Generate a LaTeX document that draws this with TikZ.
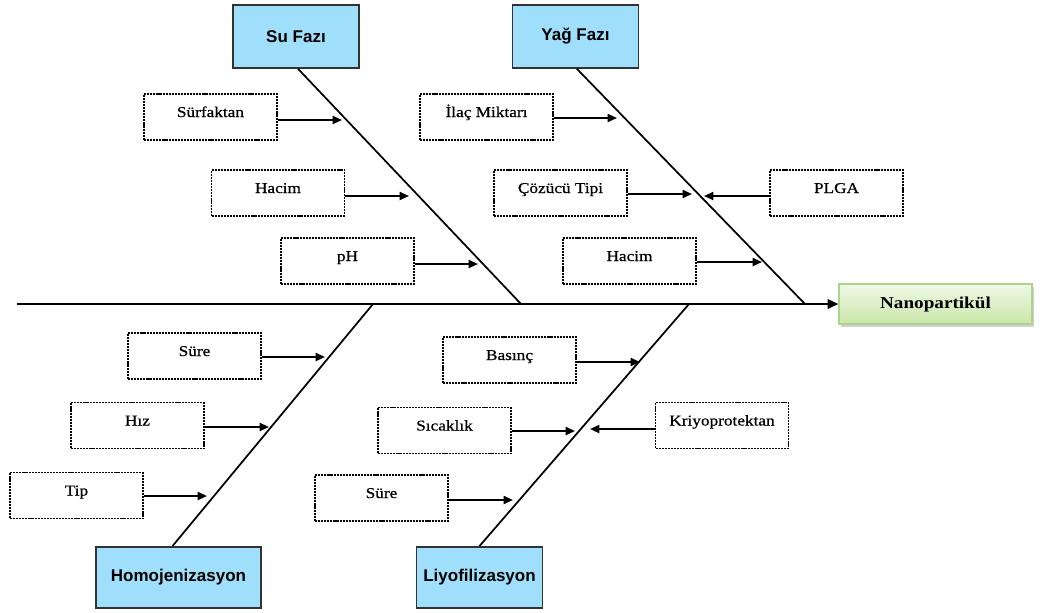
\documentclass[tikz,border=0pt]{standalone}
\usepackage{fontspec}
\setmainfont{Liberation Serif}[FakeStretch=1.15]
\newfontfamily\causefont{Liberation Serif}[FakeStretch=1.15,FakeBold=0.6]
\setsansfont{Liberation Sans}
\usetikzlibrary{arrows.meta,shadows}
\definecolor{bluebox}{HTML}{9FDFFB}
\definecolor{nanotop}{HTML}{F0F8E6}
\definecolor{nanobot}{HTML}{C9E6A8}
\definecolor{nanoedge}{HTML}{A9D48A}
\begin{document}
\begin{tikzpicture}[x=0.75pt,y=-0.75pt,
 cat/.style={draw=black!80, line width=1.4pt, fill=bluebox, minimum width=94.5pt, minimum height=47pt, inner sep=0pt, font=\sffamily\bfseries\fontsize{12.75pt}{14pt}\selectfont},
 cause/.style={draw, dash pattern=on 1.6pt off 0.7pt, line width=0.9pt, minimum width=99.75pt, inner sep=0pt, text height=17.25pt, text depth=17.25pt, font=\causefont\fontsize{11.25pt}{13pt}\selectfont},
 bone/.style={line width=1.3pt},
 arr/.style={line width=1.4pt, -{Triangle[length=7pt,width=6pt]}},
]
\useasboundingbox (0,0) rectangle (1040,612);
% category boxes
\node[cat] (su) at (296,36.5) {Su Fazı};
\node[cat] (yag) at (575.5,36.5) {Yağ Fazı};
\node[cat, minimum width=123.75pt, minimum height=45.75pt] (homo) at (178.5,577.5) {Homojenizasyon};
\node[cat, minimum height=45.75pt] (liyo) at (479.5,577.5) {Liyofilizasyon};
% effect box
\node[draw=nanoedge, line width=1pt, top color=nanotop, bottom color=nanobot,
      drop shadow={shadow xshift=1.5pt, shadow yshift=-2pt, fill=black!30, opacity=0.6},
      minimum width=144.75pt, minimum height=30pt, inner sep=0pt,
      font=\bfseries\fontsize{12.5pt}{15pt}\selectfont] (nano) at (935.5,304) {Nanopartikül};
% spine
\coordinate (start) at (17,304);
\draw[line width=1.7pt, -{Triangle[length=8pt,width=7pt]}] (start) -- (nano.west);
% junctions
\coordinate (j1) at (521,304);
\coordinate (j2) at (805,304);
\coordinate (j3) at (373,304);
\coordinate (j4) at (689,304);
\draw[bone] ([xshift=1.5pt]su.south) -- (j1);
\draw[bone] ([xshift=1pt]yag.south) -- (j2);
\draw[bone] ([xshift=-4.5pt]homo.north) -- (j3);
\draw[bone] (liyo.north) -- (j4);
% cause boxes
\node[cause] (sf) at (210.5,117) {Sürfaktan};
\node[cause] (hac1) at (278,193) {Hacim};
\node[cause] (ph) at (347.5,261) {pH};
\node[cause] (ilac) at (486.5,117) {İlaç Miktarı};
\node[cause] (coz) at (560.5,193) {Çözücü Tipi};
\node[cause] (plga) at (836.5,193) {PLGA};
\node[cause] (hac2) at (629.5,261) {Hacim};
\node[cause] (sure1) at (194.5,356) {Süre};
\node[cause] (hiz) at (137.5,425.5) {Hız};
\node[cause] (tip) at (76.5,495.5) {Tip};
\node[cause] (bas) at (509.5,360) {Basınç};
\node[cause] (sic) at (444.5,430.5) {Sıcaklık};
\node[cause] (kri) at (722,425.5) {Kriyoprotektan};
\node[cause] (sure2) at (381.5,498) {Süre};
% arrow tips
\coordinate (tsf) at (342,120);
\coordinate (thac1) at (409,196);
\coordinate (tph) at (478,264);
\coordinate (tilac) at (617,118);
\coordinate (tcoz) at (692,194);
\coordinate (tplga) at (704,196);
\coordinate (thac2) at (762,262);
\coordinate (tsure1) at (325,357);
\coordinate (thiz) at (269,427);
\coordinate (ttip) at (207,496);
\coordinate (tbas) at (640,362);
\coordinate (tsic) at (575,431);
\coordinate (tkri) at (590,429);
\coordinate (tsure2) at (513,500);
\draw[arr] (sf.east |- tsf) -- (tsf);
\draw[arr] (hac1.east |- thac1) -- (thac1);
\draw[arr] (ph.east |- tph) -- (tph);
\draw[arr] (ilac.east |- tilac) -- (tilac);
\draw[arr] (coz.east |- tcoz) -- (tcoz);
\draw[arr] (plga.west |- tplga) -- (tplga);
\draw[arr] (hac2.east |- thac2) -- (thac2);
\draw[arr] (sure1.east |- tsure1) -- (tsure1);
\draw[arr] (hiz.east |- thiz) -- (thiz);
\draw[arr] (tip.east |- ttip) -- (ttip);
\draw[arr] (bas.east |- tbas) -- (tbas);
\draw[arr] (sic.east |- tsic) -- (tsic);
\draw[arr] (kri.west |- tkri) -- (tkri);
\draw[arr] (sure2.east |- tsure2) -- (tsure2);
\end{tikzpicture}
\end{document}
